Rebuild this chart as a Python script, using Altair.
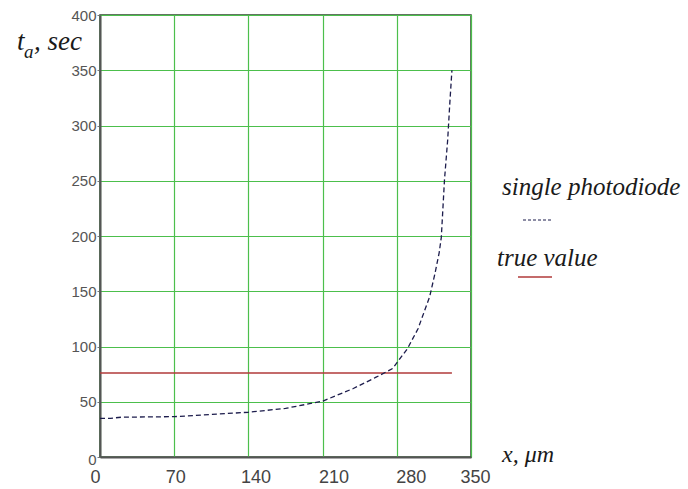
import altair as alt
import pandas as pd

# ---- data ----
x_um = [0, 10, 20, 70, 140, 175, 210, 239, 260, 276, 290, 300, 311, 316, 320, 322, 325, 328, 330, 332]
t_single = [35, 35, 36, 36.5, 40.5, 44, 50.5, 62, 72, 80, 98, 116, 145, 166, 185, 199, 251, 287, 320, 350]
true_x = [0, 332]
true_t = [76, 76]
x_ticks = [0, 70, 140, 210, 280, 350]
y_ticks = [0, 50, 100, 150, 200, 250, 300, 350, 400]
legend_labels = ["single photodiode", "true value"]

W, H = 371, 442
LEFT, TOP = 100, 15

curve = pd.DataFrame({"x": x_um, "t": t_single})
truth = pd.DataFrame({"x": true_x, "t": true_t})
one = pd.DataFrame({"k": [0]})

xs = alt.Scale(domain=[0, 350], nice=False, zero=False)
ys = alt.Scale(domain=[0, 400], nice=False)

GRID = "#4cbf4c"

x_axis = alt.Axis(
    values=x_ticks, title=None, grid=True, gridColor=GRID, gridWidth=1.2,
    domainColor="#555555", domainWidth=2, ticks=False, tickSize=0,
    labelFont="Liberation Sans", labelFontSize=18, labelColor="#444444",
    labelPadding=11, labelFlush=False, labelOverlap=False, labelBaseline="top",
    labelOffset={"condition": [
        {"test": "datum.value == 0", "value": -5},
        {"test": "datum.value == 140", "value": 7},
        {"test": "datum.value == 210", "value": 11},
        {"test": "datum.value == 280", "value": 14},
        {"test": "datum.value == 350", "value": 4},
    ], "value": 1},
)
y_axis = alt.Axis(
    values=y_ticks, title=None, grid=True, gridColor=GRID, gridWidth=1.2,
    domainColor="#555555", domainWidth=2, ticks=True, tickSize=3, tickColor="#777777",
    labelFont="Liberation Sans Narrow, Liberation Sans, sans-serif", labelFontSize=15,
    labelColor="#555555", labelPadding=1, labelFlush=False, labelOverlap=False,
    labelOffset={"condition": {"test": "datum.value == 0", "value": 2}, "value": 0},
)

base_true = alt.Chart(truth).mark_line(color="#b03a3a", strokeWidth=1.5).encode(
    x=alt.X("x:Q", scale=xs, axis=x_axis),
    y=alt.Y("t:Q", scale=ys, axis=y_axis),
)
single = alt.Chart(curve).mark_line(color="#1c1c4c", strokeWidth=1.3, strokeDash=[5, 3]).encode(
    x=alt.X("x:Q", scale=xs),
    y=alt.Y("t:Q", scale=ys),
)

serif = "'Liberation Serif', 'Times New Roman', serif"


def txt(s, x, y, size, align="left"):
    return alt.Chart(one).mark_text(
        text=s, font=serif, fontStyle="italic", fontSize=size, align=align,
        baseline="alphabetic", color="#1a1a1a"
    ).encode(x=alt.value(x), y=alt.value(y))


t_main = txt("t", -83, 35, 27)
t_sub = txt("a", -76, 43, 19)
t_rest = txt(", sec", -66, 35, 27)
x_title = txt("x,  \u03bcm", 402, 447, 24)
leg1 = txt(legend_labels[0], 402, 180, 25)
leg2 = txt(legend_labels[1], 397, 251, 25)

sample1 = alt.Chart(one).mark_rule(color="#1c1c4c", strokeWidth=1.2, strokeDash=[3, 2]).encode(
    x=alt.value(423), x2=alt.value(453), y=alt.value(205)
)
sample2 = alt.Chart(one).mark_rule(color="#b03a3a", strokeWidth=1.5).encode(
    x=alt.value(418), x2=alt.value(452), y=alt.value(262)
)

chart = alt.layer(
    base_true, single, t_main, t_sub, t_rest, x_title, leg1, leg2, sample1, sample2
).properties(
    width=W, height=H,
    autosize=alt.AutoSizeParams(type="none"),
    padding={"left": LEFT, "top": TOP, "right": 688 - LEFT - W, "bottom": 489 - TOP - H},
    background="white",
).configure_view(stroke="#2e4a2e", strokeWidth=1.5)

chart.save("out.html", embed_options={"renderer": "svg", "actions": False})
